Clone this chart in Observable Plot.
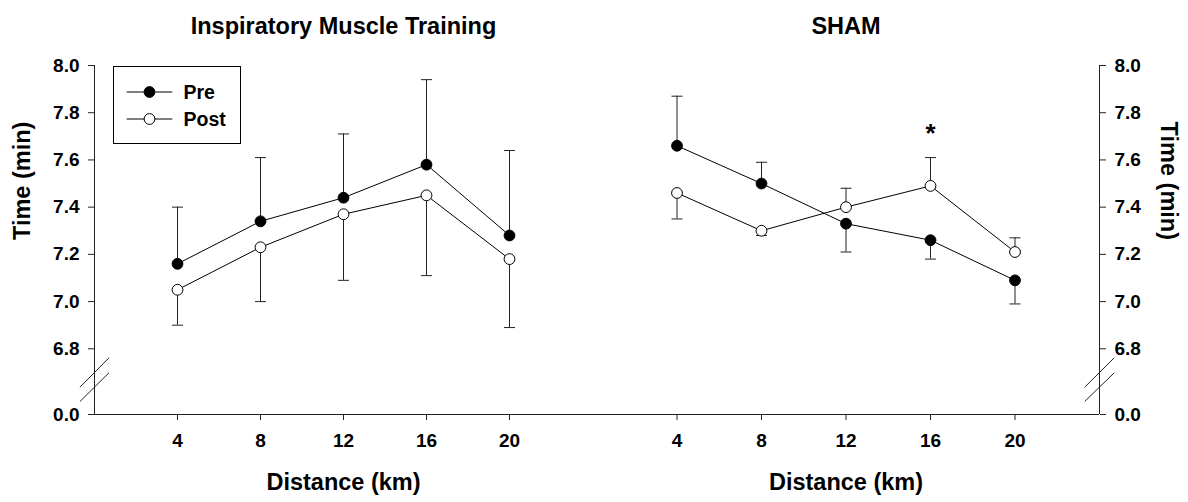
<!DOCTYPE html>
<html>
<head>
<meta charset="utf-8">
<script src="https://cdn.jsdelivr.net/npm/d3@7"></script>
<script src="https://cdn.jsdelivr.net/npm/@observablehq/plot@0.6"></script>
<style>
  html, body { margin: 0; padding: 0; background: #fff; }
  body { font-family: "Liberation Sans", Arial, sans-serif; }
  #wrap { position: relative; width: 1188px; height: 502px; }
  #legend { position: absolute; left: 113px; top: 66px; width: 128px; height: 78px;
            border: 1px solid #000; box-sizing: border-box; background: #fff; }
</style>
</head>
<body>
<div id="wrap">
  <div id="chart"></div>
  <div id="legend"></div>
</div>
<script>
// ---- data ----
const distances = [4, 8, 12, 16, 20];             // km
const panelNames = ["Inspiratory Muscle Training", "SHAM"];
const seriesNames = ["Pre", "Post"];

const imtPre      = [7.16, 7.34, 7.44, 7.58, 7.28];
const imtPreBar   = [7.40, 7.61, 7.71, 7.94, 7.64];   // error-bar end
const imtPost     = [7.05, 7.23, 7.37, 7.45, 7.18];
const imtPostBar  = [6.90, 7.00, 7.09, 7.11, 6.89];

const shamPre     = [7.66, 7.50, 7.33, 7.26, 7.09];
const shamPreBar  = [7.87, 7.59, 7.21, 7.18, 6.99];
const shamPost    = [7.46, 7.30, 7.40, 7.49, 7.21];
const shamPostBar = [7.35, 7.28, 7.48, 7.61, 7.27];

const yTicks = [0, 6.8, 7.0, 7.2, 7.4, 7.6, 7.8, 8.0];
const xTickLabels = [4, 8, 12, 16, 20];
const significant = [{panel: "SHAM", km: 16, y: 7.71, label: "*"}];
const breakY = [[2.83, 5.87], [1.35, 4.32]];  // axis-break slashes (value units in the broken segment)

// ---- layout ----
const panelSpan = 24;                       // each panel spans 0..24 km
const offsets = {"Inspiratory Muscle Training": 0, "SHAM": panelSpan};

const rows = [];
const add = (panel, series, vals, bars) =>
  distances.forEach((km, i) => rows.push({panel, series, km, x: km + offsets[panel], value: vals[i], bar: bars[i]}));
add(panelNames[0], "Pre", imtPre, imtPreBar);
add(panelNames[0], "Post", imtPost, imtPostBar);
add(panelNames[1], "Pre", shamPre, shamPreBar);
add(panelNames[1], "Post", shamPost, shamPostBar);

const xTicks = panelNames.flatMap(p => xTickLabels.map(k => k + offsets[p]));
const panels = panelNames.map(name => ({name, x: offsets[name] + panelSpan / 2}));

const breaks = [];
[0, 2 * panelSpan].forEach(ax => breakY.forEach(([a, b]) => breaks.push({x1: ax - 0.7, x2: ax + 0.7, y1: a, y2: b})));

const capSymbol = { draw(ctx) { ctx.moveTo(-5.5, 0); ctx.lineTo(5.5, 0); } };
const font = "Liberation Sans, Arial, sans-serif";
const fillOf = s => s === "Pre" ? "black" : "white";

const chart = Plot.plot({
  width: 1188, height: 502,
  marginTop: 65, marginBottom: 88, marginLeft: 94, marginRight: 89,
  style: {fontFamily: font, background: "white", color: "black"},
  x: {type: "linear", domain: [0, panelSpan, 2 * panelSpan], range: [94, 592, 1099], axis: null},
  y: {type: "linear", domain: [0, 6.8, 8.0], range: [414, 348.3, 65], axis: null},
  marks: [
    // axis lines
    Plot.ruleY([0], {x1: 0, x2: 2 * panelSpan, stroke: "#222"}),
    Plot.ruleX([0, 2 * panelSpan], {y1: 0, y2: 8.0, stroke: "#222"}),
    Plot.link(breaks, {x1: "x1", x2: "x2", y1: "y1", y2: "y2", stroke: "#222", strokeWidth: 1}),
    Plot.axisX({ticks: xTicks, tickFormat: d => String(d > panelSpan ? d - panelSpan : d),
      tickSize: 6, tickPadding: 13, fontSize: 19, fontWeight: "bold", label: null, stroke: "#222"}),
    Plot.axisY({anchor: "left", ticks: yTicks, tickFormat: d3.format(".1f"),
      tickSize: 6, tickPadding: 9, fontSize: 19, fontWeight: "bold", label: null, stroke: "#222"}),
    Plot.axisY({anchor: "right", ticks: yTicks, tickFormat: d3.format(".1f"),
      tickSize: 6, tickPadding: 9, fontSize: 19, fontWeight: "bold", label: null, stroke: "#222"}),
    // error bars
    Plot.ruleX(rows, {x: "x", y1: "value", y2: "bar", stroke: "#222", strokeWidth: 1}),
    Plot.dot(rows, {x: "x", y: "bar", symbol: capSymbol, stroke: "#222", strokeWidth: 1, r: 5}),
    // lines
    Plot.line(rows, {x: "x", y: "value", z: d => d.panel + d.series, stroke: "black", strokeWidth: 1}),
    // markers
    Plot.dot(rows, {x: "x", y: "value", r: 5.4, fill: d => fillOf(d.series), stroke: "black", strokeWidth: 1}),
    // significance
    Plot.text(significant, {x: d => d.km + offsets[d.panel], y: "y", text: "label", fontSize: 26, fontWeight: "bold"}),
    // titles
    Plot.text(panels, {x: "x", frameAnchor: "top", dy: -48, text: "name", fontSize: 23.5, fontWeight: "bold"}),
    Plot.text(panels, {x: "x", frameAnchor: "bottom", dy: 75, text: () => "Distance (km)", fontSize: 23.5, fontWeight: "bold"}),
    Plot.text(["Time (min)"], {frameAnchor: "left", dx: -72, rotate: -90, text: d => d, fontSize: 23.5, fontWeight: "bold"}),
    Plot.text(["Time (min)"], {frameAnchor: "right", dx: 69, rotate: 90, text: d => d, fontSize: 23.5, fontWeight: "bold"})
  ]
});
document.getElementById("chart").appendChild(chart);

// legend
const ns = "http://www.w3.org/2000/svg";
const lsvg = document.createElementNS(ns, "svg");
lsvg.setAttribute("width", 126); lsvg.setAttribute("height", 76);
seriesNames.forEach((s, i) => {
  const cy = 25 + i * 27;
  const line = document.createElementNS(ns, "line");
  line.setAttribute("x1", 12.7); line.setAttribute("x2", 58.3);
  line.setAttribute("y1", cy); line.setAttribute("y2", cy);
  line.setAttribute("stroke", "black");
  lsvg.appendChild(line);
  const c = document.createElementNS(ns, "circle");
  c.setAttribute("cx", 35.5); c.setAttribute("cy", cy); c.setAttribute("r", 5.4);
  c.setAttribute("fill", fillOf(s)); c.setAttribute("stroke", "black");
  lsvg.appendChild(c);
  const t = document.createElementNS(ns, "text");
  t.setAttribute("x", 69.5); t.setAttribute("y", cy); t.setAttribute("dy", "0.35em");
  t.setAttribute("font-family", font); t.setAttribute("font-weight", "bold"); t.setAttribute("font-size", 19.5);
  t.textContent = s;
  lsvg.appendChild(t);
});
document.getElementById("legend").appendChild(lsvg);
</script>
</body>
</html>
